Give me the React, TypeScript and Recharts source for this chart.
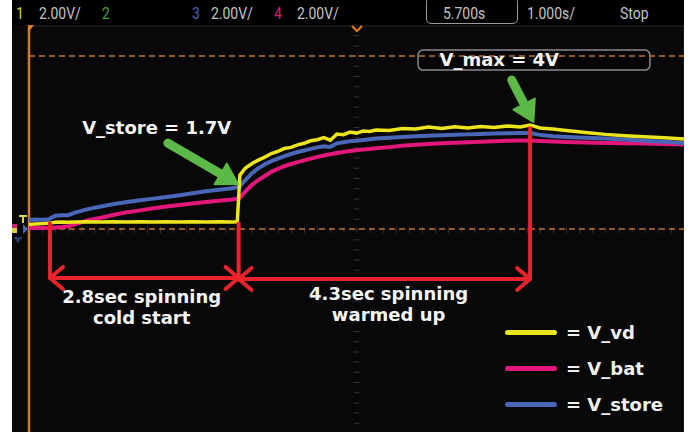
import {
  ComposedChart,
  Line,
  XAxis,
  YAxis,
  CartesianGrid,
  ReferenceLine,
  ReferenceDot,
  ReferenceArea,
  Legend,
} from 'recharts'

// time in seconds (screen runs 0.7s .. 10.7s, 1s/div), voltages in V (2V/div)
const times = [
  0.7, 0.8, 0.9, 1.0, 1.1, 1.2, 1.3, 1.4, 1.6, 1.8, 2.0, 2.2, 2.4, 2.6, 2.8, 3.0, 3.2, 3.4, 3.6, 3.8, 3.88, 3.92,
  4.0, 4.1, 4.2, 4.3, 4.4, 4.5, 4.6, 4.7, 4.8, 4.9, 5.0, 5.1, 5.2, 5.3, 5.4, 5.5, 5.6, 5.7, 5.8, 5.9, 6.0,
  6.2, 6.4, 6.6, 6.8, 7.0, 7.2, 7.4, 7.6, 7.8, 8.0, 8.2, 8.35, 8.5, 8.7, 8.9, 9.2, 9.5, 9.8, 10.1, 10.4, 10.7,
]
const vVd = [
  0.22, 0.24, 0.25, 0.26, 0.3, 0.31, 0.3, 0.31, 0.32, 0.31, 0.32, 0.31, 0.32, 0.31, 0.32, 0.31, 0.32, 0.31, 0.32, 0.31, 0.32, 2.15,
  2.42, 2.6, 2.74, 2.86, 3.0, 3.08, 3.2, 3.24, 3.34, 3.4, 3.5, 3.54, 3.62, 3.52, 3.76, 3.74, 3.84, 3.8, 3.88, 3.86, 3.92,
  3.9, 3.98, 3.96, 4.04, 3.98, 4.05, 4.0, 4.06, 4.02, 4.08, 4.04, 4.12, 4.0, 3.96, 3.9, 3.82, 3.75, 3.7, 3.66, 3.62, 3.57,
]
const vBat = [
  0.08, 0.08, 0.09, 0.08, 0.1, 0.12, 0.15, 0.22, 0.38, 0.48, 0.6, 0.7, 0.77, 0.85, 0.92, 0.98, 1.04, 1.1, 1.15, 1.2, 1.23, 1.26,
  1.5, 1.76, 1.96, 2.12, 2.28, 2.4, 2.5, 2.59, 2.66, 2.73, 2.8, 2.86, 2.92, 2.97, 3.02, 3.06, 3.1, 3.13, 3.16, 3.18, 3.21,
  3.25, 3.3, 3.34, 3.37, 3.4, 3.42, 3.44, 3.46, 3.48, 3.5, 3.51, 3.51, 3.49, 3.47, 3.45, 3.43, 3.41, 3.4, 3.39, 3.37, 3.35,
]
const vStore = [
  0.4, 0.41, 0.4, 0.42, 0.56, 0.58, 0.58, 0.68, 0.82, 0.92, 1.02, 1.1, 1.17, 1.23, 1.29, 1.36, 1.44, 1.52, 1.58, 1.64, 1.68, 1.72,
  1.95, 2.22, 2.42, 2.58, 2.7, 2.8, 2.9, 2.98, 3.06, 3.12, 3.18, 3.24, 3.28, 3.26, 3.4, 3.44, 3.48, 3.5, 3.53, 3.56, 3.59,
  3.62, 3.65, 3.68, 3.7, 3.72, 3.74, 3.75, 3.76, 3.78, 3.79, 3.8, 3.8, 3.73, 3.68, 3.65, 3.62, 3.59, 3.55, 3.5, 3.46, 3.41,
]

const xTicks = [0.7, 1.7, 2.7, 3.7, 4.7, 5.7, 6.7, 7.7, 8.7, 9.7, 10.7]
const yTicks = [-8, -6, -4, -2, 0, 2, 4, 6, 8]

// spans: cold start 1.02s -> 3.9s, warmed up 3.9s -> 8.35s
const spanTimes = [1.02, 3.9, 8.35]
const spanTops = [0.31, 0.31, 4.06]
const spanLevel = -1.88
const triggerLevels = [0.04, 6.82]

const seriesNames = ['V_vd', 'V_bat', 'V_store']
const seriesColors = ['#ece51e', '#e2177a', '#4a66b6']

const chartData = times.map((t, i) => ({ t, vd: vVd[i], bat: vBat[i], store: vStore[i] }))

const RED = '#e8232b'
const GREEN = '#5cb947'
const ORANGE = '#c0722f'
const FONT = '"DejaVu Sans", Verdana, sans-serif'

function SpanArrow(props: any) {
  const { x1, y1, x2, y2 } = props
  const h = 13
  const w = 11
  return (
    <g stroke={RED} strokeWidth={4} fill="none" strokeLinecap="round" strokeLinejoin="round">
      <line x1={x1} y1={y1} x2={x2} y2={y2} />
      <polyline points={`${x1 + h},${y1 - w} ${x1},${y1} ${x1 + h},${y1 + w}`} />
      <polyline points={`${x2 - h},${y2 - w} ${x2},${y2} ${x2 - h},${y2 + w}`} />
    </g>
  )
}

function GreenArrow(props: any) {
  const { x1, y1, x2, y2 } = props
  const dx = x2 - x1
  const dy = y2 - y1
  const len = Math.hypot(dx, dy) || 1
  const ux = dx / len
  const uy = dy / len
  const hl = 20
  const hw = 12
  const bx = x2 - ux * hl
  const by = y2 - uy * hl
  return (
    <g>
      <line x1={x1} y1={y1} x2={bx} y2={by} stroke={GREEN} strokeWidth={9} strokeLinecap="round" />
      <polygon
        points={`${x2},${y2} ${bx - uy * hw},${by + ux * hw} ${bx + uy * hw},${by - ux * hw}`}
        fill={GREEN}
        stroke={GREEN}
        strokeWidth={2}
        strokeLinejoin="round"
      />
    </g>
  )
}

function ScopeLegend() {
  return (
    <div style={{ fontFamily: FONT, fontWeight: 700, fontSize: 18, color: '#f0f0f0' }}>
      {seriesNames.map((n, i) => (
        <div key={n} style={{ display: 'flex', alignItems: 'center', height: 36 }}>
          <div
            style={{ width: 52, height: 5, borderRadius: 3, background: seriesColors[i], marginLeft: 5, marginRight: 9 }}
          />
          <span>= {n}</span>
        </div>
      ))}
    </div>
  )
}

function barText(left: number, text: string, color: string) {
  return (
    <span
      style={{
        position: 'absolute',
        left,
        top: 3,
        fontFamily: 'Roboto, sans-serif',
        fontSize: 17,
        color,
        transform: 'scaleX(0.82)',
        transformOrigin: 'left top',
        whiteSpace: 'nowrap',
        lineHeight: '20px',
      }}
    >
      {text}
    </span>
  )
}

const label = (value: string) => ({
  value,
  position: 'center' as const,
  fill: '#f4f4f4',
  fontSize: 18,
  fontWeight: 700,
  fontFamily: FONT,
})

export default function App() {
  return (
    <div style={{ position: 'absolute', left: 0, top: 0, width: 691, height: 432, background: '#fff', overflow: 'hidden' }}>
      <div style={{ position: 'absolute', left: 12, top: 0, width: 672, height: 432, background: '#080808' }} />
      <div style={{ position: 'absolute', left: 12, top: 0, width: 672, height: 25, background: '#000' }} />
      {barText(16, '1', '#d8d43a')}
      {barText(39, '2.00V/', '#c4c4c4')}
      {barText(102, '2', '#3fa63f')}
      {barText(192, '3', '#4a5fb2')}
      {barText(211, '2.00V/', '#c4c4c4')}
      {barText(274, '4', '#d2207a')}
      {barText(297, '2.00V/', '#c4c4c4')}
      <div
        style={{
          position: 'absolute',
          left: 426,
          top: -3,
          width: 90,
          height: 25,
          border: '1.5px solid #9a9a9a',
          borderRadius: 5,
        }}
      />
      {barText(443, '5.700s', '#c4c4c4')}
      {barText(527, '1.000s/', '#c4c4c4')}
      {barText(620, 'Stop', '#c4c4c4')}

      <div style={{ position: 'absolute', left: 0, top: 0 }}>
        <ComposedChart width={691} height={434} data={chartData} margin={{ top: 26, right: 7, bottom: 0, left: 29 }}>
          <CartesianGrid stroke="#252525" strokeWidth={1} />
          <XAxis
            dataKey="t"
            type="number"
            domain={[0.7, 10.7]}
            ticks={xTicks}
            tick={false}
            tickLine={false}
            axisLine={false}
            height={0}
            allowDataOverflow
          />
          <YAxis
            type="number"
            domain={[-8, 8]}
            ticks={yTicks}
            tick={false}
            tickLine={false}
            axisLine={false}
            width={0}
            allowDataOverflow
          />
          {/* minor ticks on the centre axes */}
          <ReferenceLine x={5.7} stroke="#333" strokeWidth={6} strokeDasharray="1 9.2" />
          <ReferenceLine y={0} stroke="#333" strokeWidth={6} strokeDasharray="1 12.1" />
          {triggerLevels.map((v) => (
            <ReferenceLine key={v} y={v} stroke={ORANGE} strokeWidth={1.5} strokeDasharray="6 4" />
          ))}
          <ReferenceLine x={0.7} stroke="#d07a30" strokeWidth={2.5} />
          <ReferenceArea
            x1={6.64}
            x2={10.18}
            y1={6.27}
            y2={7.06}
            fill="#050505"
            fillOpacity={1}
            stroke="#8a8a8a"
            strokeWidth={1.5}
            radius={5}
          />

          <Line dataKey="bat" name="V_bat" type="linear" stroke={seriesColors[1]} strokeWidth={4} dot={false} isAnimationActive={false} />
          <Line dataKey="store" name="V_store" type="linear" stroke={seriesColors[2]} strokeWidth={4} dot={false} isAnimationActive={false} />
          <Line dataKey="vd" name="V_vd" type="linear" stroke={seriesColors[0]} strokeWidth={3.5} dot={false} isAnimationActive={false} />

          {spanTimes.map((t, i) => (
            <ReferenceLine
              key={t}
              segment={[
                { x: t, y: spanTops[i] },
                { x: t, y: spanLevel - (i === 2 ? 0.08 : 0) },
              ]}
              stroke={RED}
              strokeWidth={4}
            />
          ))}
          <ReferenceLine
            segment={[
              { x: spanTimes[0], y: spanLevel },
              { x: spanTimes[1], y: spanLevel },
            ]}
            shape={SpanArrow}
          />
          <ReferenceLine
            segment={[
              { x: spanTimes[1], y: spanLevel - 0.04 },
              { x: spanTimes[2], y: spanLevel - 0.04 },
            ]}
            shape={SpanArrow}
          />

          <ReferenceLine
            segment={[
              { x: 2.82, y: 3.41 },
              { x: 3.89, y: 1.8 },
            ]}
            shape={GreenArrow}
          />
          <ReferenceLine
            segment={[
              { x: 8.07, y: 5.88 },
              { x: 8.4, y: 4.24 },
            ]}
            shape={GreenArrow}
          />

          <ReferenceDot x={2.65} y={4.0} r={0} fill="none" stroke="none" label={label('V_store = 1.7V')} />
          <ReferenceDot x={7.88} y={6.67} r={0} fill="none" stroke="none" label={label('V_max = 4V')} />
          <ReferenceDot x={2.42} y={-2.6} r={0} fill="none" stroke="none" label={label('2.8sec spinning')} />
          <ReferenceDot x={2.42} y={-3.45} r={0} fill="none" stroke="none" label={label('cold start')} />
          <ReferenceDot x={6.19} y={-2.5} r={0} fill="none" stroke="none" label={label('4.3sec spinning')} />
          <ReferenceDot x={6.19} y={-3.32} r={0} fill="none" stroke="none" label={label('warmed up')} />

          <Legend
            layout="horizontal"
            verticalAlign="middle"
            align="center"
            content={<ScopeLegend />}
            wrapperStyle={{ position: 'absolute', left: 500, top: 314, width: 184, height: 110 }}
          />
        </ComposedChart>
      </div>

      {/* white border strip on the right of the screen */}
      <div style={{ position: 'absolute', left: 684, top: 0, width: 7, height: 432, background: '#fff' }} />

      {/* scope markers: trigger flags and channel ground markers */}
      <svg style={{ position: 'absolute', left: 0, top: 0 }} width={691} height={432}>
        <polygon points="28,25 34,25 28,33" fill="#e07a2a" />
        <polyline points="352,26 357,31 362,26" fill="none" stroke="#e07a2a" strokeWidth={2} />
        <rect x={12} y={224} width={5} height={9} fill="#d2207a" />
        <rect x={12} y={228} width={5} height={5} fill="#d8d43a" />
        <path d="M19 216 H27 M23 216 V223" stroke="#d8d43a" strokeWidth={2} />
        <polygon points="23,224 28,229 23,234" fill="#4a66b6" />
        <path d="M14 238 H22 M15.5 240 H20.5 M17 242 H19" stroke="#4a66b6" strokeWidth={1.2} />
      </svg>
    </div>
  )
}
